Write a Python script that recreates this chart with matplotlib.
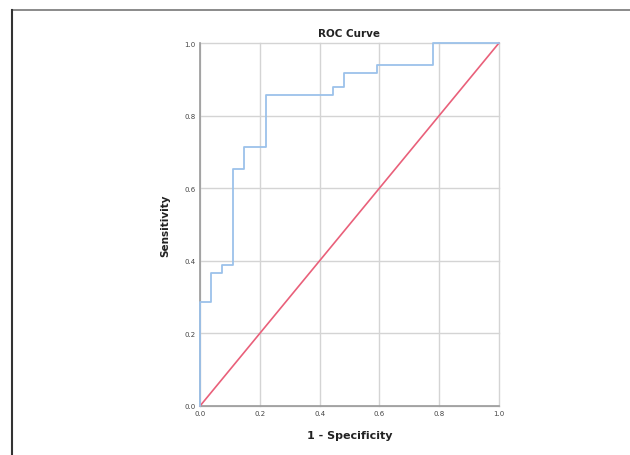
import matplotlib.pyplot as plt
from matplotlib.lines import Line2D

# ROC step points (1 - specificity, sensitivity)
fpr = [0.0, 0.0, 0.037, 0.037, 0.074, 0.074, 0.111, 0.111, 0.148, 0.148,
       0.222, 0.222, 0.444, 0.444, 0.481, 0.481, 0.593, 0.593, 0.778, 0.778, 1.0]
tpr = [0.0, 0.286, 0.286, 0.367, 0.367, 0.388, 0.388, 0.653, 0.653, 0.714,
       0.714, 0.857, 0.857, 0.878, 0.878, 0.918, 0.918, 0.939, 0.939, 1.0, 1.0]
ref_line = [0.0, 1.0]
ticks = [0.0, 0.2, 0.4, 0.6, 0.8, 1.0]
tick_labels = ['0.0', '0.2', '0.4', '0.6', '0.8', '1.0']

fig = plt.figure(figsize=(6.3, 4.56), dpi=100)
ax = fig.add_axes([0.3175, 0.1075, 0.4745, 0.796])

ax.plot(ref_line, ref_line, color='#e9607a', lw=1.2, zorder=3, clip_on=False)
ax.plot(fpr, tpr, color='#9cc2ea', lw=1.3, zorder=4, clip_on=False)

ax.set_xlim(0, 1)
ax.set_ylim(0, 1)
ax.set_xticks(ticks)
ax.set_yticks(ticks)
ax.set_xticklabels(tick_labels, fontsize=5, color='#444444')
ax.set_yticklabels(tick_labels, fontsize=5, color='#444444')
ax.tick_params(length=0, pad=3)
ax.grid(True, color='#d4d4d4', lw=1, clip_on=False)
ax.set_axisbelow(True)
for s in ['top', 'right']:
    ax.spines[s].set_visible(False)
ax.spines['left'].set_color('#9a9a9a')
ax.spines['bottom'].set_color('#9a9a9a')
ax.spines['left'].set_linewidth(1.2)
ax.spines['bottom'].set_linewidth(1.2)

ax.set_title('ROC Curve', fontsize=7.5, fontweight='bold', color='#222222', pad=5)
ax.set_xlabel('1 - Specificity', fontsize=8, fontweight='bold', labelpad=10, color='#222222')
ax.set_ylabel('Sensitivity', fontsize=7.5, fontweight='bold', labelpad=10, color='#222222')

# outer frame (top and left edges)
fig.add_artist(Line2D([11.5 / 630, 1.0], [1 - 10.5 / 456, 1 - 10.5 / 456],
                      transform=fig.transFigure, color='#777777', lw=1.2))
fig.add_artist(Line2D([11.5 / 630, 11.5 / 630], [0, 1 - 10.5 / 456],
                      transform=fig.transFigure, color='#333333', lw=1.5))

fig.savefig('out.png', dpi=100)
